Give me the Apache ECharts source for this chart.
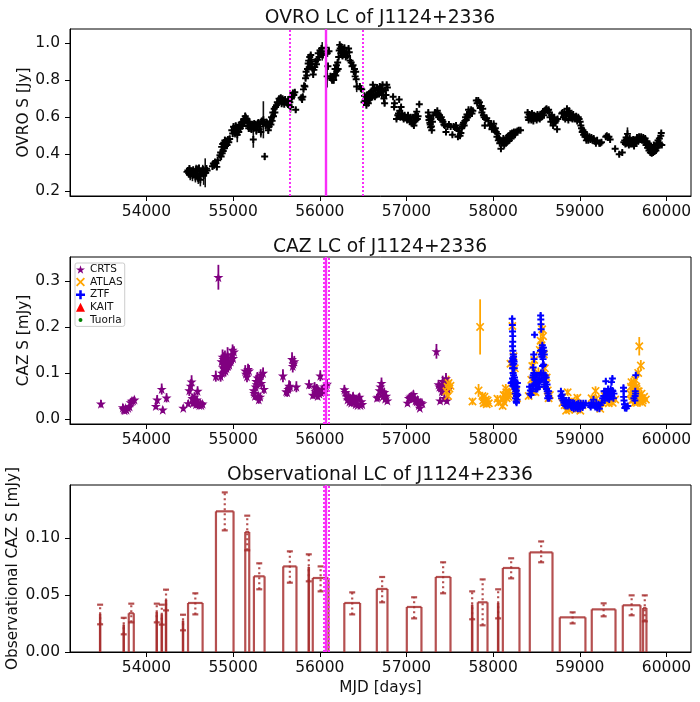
<!DOCTYPE html>
<html>
<head>
<meta charset="utf-8">
<title>J1124+2336</title>
<script src="https://cdn.jsdelivr.net/npm/echarts@6/dist/echarts.min.js"></script>
<style>html,body{margin:0;padding:0;background:#fff}#main{width:700px;height:702px}</style>
</head>
<body>
<div id="main"></div>
<script>
// [mjd, flux, err]
var ovro = [
[54468,.305,.02],[54478,.312,.02],[54487,.298,.025],[54496,.322,.02],[54505,.29,.03],[54514,.31,.02],[54522,.302,.025],[54531,.285,.03],[54540,.315,.02],[54548,.296,.025],[54556,.305,.02],[54565,.278,.03],[54573,.318,.025],[54582,.292,.03],[54590,.31,.03],[54598,.27,.03],[54606,.325,.02],[54614,.288,.03],[54622,.262,.035],[54630,.305,.02],[54640,.296,.02],[54650,.318,.025],[54660,.285,.05],[54668,.308,.02],[54678,.3,.078],[54684,.3,.02],[54692,.322,.02],[54700,.312,.02],
[54762,.335,.02],[54772,.35,.015],[54782,.342,.02],[54792,.358,.015],[54802,.352,.015],[54812,.332,.015],[54822,.368,.015],[54848,.395,.015],[54856,.41,.015],[54862,.388,.015],[54868,.44,.02],[54874,.405,.015],[54880,.455,.02],[54886,.418,.015],[54892,.462,.02],[54898,.432,.02],[54905,.475,.02],[54912,.445,.015],[54920,.47,.02],[54930,.45,.02],[54940,.478,.02],[54950,.465,.02],[54960,.482,.02],
[54985,.53,.015],[54995,.512,.02],[55005,.548,.02],[55014,.525,.02],[55022,.515,.025],[55030,.552,.02],[55040,.538,.02],[55048,.505,.04],[55056,.545,.02],[55065,.52,.02],[55074,.558,.02],[55084,.54,.02],[55094,.57,.02],[55104,.552,.02],[55114,.575,.02],[55124,.59,.02],[55132,.57,.02],[55140,.605,.02],[55148,.595,.02],[55156,.585,.02],[55164,.57,.02],[55172,.552,.02],[55180,.54,.02],[55188,.575,.02],[55196,.55,.03],[55204,.56,.02],[55212,.535,.02],[55233,.48,.045],[55228,.555,.025],[55236,.54,.02],[55244,.565,.02],[55252,.548,.02],[55260,.56,.02],[55268,.53,.025],[55276,.55,.02],[55284,.565,.02],[55292,.57,.02],[55300,.535,.02],[55310,.55,.02],[55320,.52,.03],[55330,.578,.02],[55349,.586,.1],[55346,.575,.02],[55356,.57,.02],[55364,.388,.02],
[55376,.555,.02],[55386,.572,.02],[55396,.56,.025],[55406,.53,.02],[55416,.55,.02],[55426,.575,.02],[55436,.56,.02],[55444,.6,.02],[55450,.58,.02],[55458,.625,.02],[55466,.605,.02],[55474,.645,.02],[55482,.625,.02],[55490,.655,.02],[55500,.665,.015],[55510,.68,.015],[55520,.675,.015],[55530,.7,.012],[55540,.69,.012],[55550,.705,.012],[55560,.672,.012],[55570,.7,.012],[55580,.685,.012],[55590,.67,.012],[55600,.695,.012],[55612,.68,.012],[55624,.675,.012],[55636,.695,.012],[55646,.665,.015],[55654,.68,.02],[55662,.655,.03],[55672,.7,.02],[55680,.71,.012],[55690,.73,.012],[55700,.72,.012],[55712,.735,.012],[55722,.64,.015],
[55786,.705,.012],[55796,.695,.015],[55804,.71,.012],[55812,.75,.012],[55820,.77,.012],[55828,.765,.012],[55836,.81,.012],[55842,.845,.012],[55850,.825,.012],[55858,.86,.015],[55866,.89,.012],[55872,.905,.012],[55878,.87,.012],[55884,.925,.012],[55890,.89,.012],[55896,.935,.012],[55902,.91,.012],[55908,.885,.012],[55916,.86,.015],[55924,.83,.012],[55932,.855,.012],[55942,.87,.015],[55952,.9,.012],[55962,.885,.012],[55972,.91,.012],[55982,.945,.012],[55992,.925,.015],[56002,.96,.015],[56012,.94,.015],[56020,.97,.02],[56028,.955,.05],[56036,.935,.015],
[56074,.975,.02],[56085,.82,.06],[56086,.945,.02],[56094,.875,.02],[56106,.955,.012],[56124,.82,.02],[56132,.81,.015],[56142,.8,.02],[56150,.82,.015],[56160,.8,.02],[56168,.83,.015],[56176,.86,.02],[56184,.825,.02],[56192,.88,.015],[56198,.85,.02],[56206,.895,.015],[56212,.86,.02],[56218,.925,.012],[56224,.96,.015],[56230,.99,.012],[56236,.97,.012],[56242,.945,.012],[56248,.98,.012],[56254,.955,.012],[56262,.93,.015],[56268,.96,.012],[56276,.94,.012],[56284,.975,.012],[56292,.945,.012],[56300,.925,.012],[56310,.95,.012],[56320,.93,.012],[56332,.97,.012],[56340,.95,.012],[56350,.905,.012],[56362,.895,.012],[56372,.875,.012],[56384,.88,.012],[56392,.845,.012],[56400,.86,.012],[56408,.82,.02],[56414,.845,.012],[56420,.805,.012],[56426,.765,.03],[56462,.765,.012],[56474,.755,.012],[56484,.75,.012],
[56510,.68,.012],[56516,.715,.012],[56522,.69,.012],[56530,.7,.012],[56538,.665,.012],[56544,.72,.012],[56552,.7,.012],[56560,.675,.012],[56568,.725,.012],[56576,.695,.012],[56584,.735,.012],[56590,.705,.012],[56598,.74,.012],[56604,.71,.012],[56612,.775,.012],[56620,.72,.015],[56628,.755,.012],[56636,.71,.012],[56644,.745,.012],[56652,.72,.012],[56660,.76,.012],[56668,.73,.012],[56676,.75,.012],[56684,.725,.012],[56692,.765,.012],[56700,.74,.012],[56708,.755,.015],[56716,.72,.012],[56724,.775,.012],[56732,.74,.012],[56740,.7,.012],[56748,.675,.015],[56756,.745,.012],[56764,.72,.012],[56772,.775,.012],[56780,.76,.012],
[56846,.71,.01],[56858,.655,.012],[56862,.675,.01],[56885,.59,.01],[56900,.61,.01],[56908,.62,.01],[56916,.695,.01],[56922,.635,.01],[56930,.6,.01],[56938,.655,.01],[56948,.62,.01],[56958,.6,.01],[56968,.59,.01],[56978,.61,.01],[56988,.595,.01],[56998,.6,.012],[57008,.585,.01],[57018,.61,.01],[57028,.59,.01],[57038,.575,.01],[57048,.6,.01],[57058,.58,.012],[57068,.565,.012],[57078,.6,.01],[57086,.555,.012],[57094,.58,.01],[57102,.61,.012],[57110,.585,.01],[57118,.63,.012],[57126,.59,.01],[57134,.605,.01],[57148,.67,.01],
[57252,.625,.012],[57256,.605,.012],[57260,.585,.012],[57264,.6,.012],[57270,.57,.012],[57274,.56,.012],[57278,.545,.012],[57282,.59,.012],[57288,.55,.012],[57292,.53,.012],[57300,.575,.012],[57310,.61,.01],[57330,.625,.01],[57346,.615,.01],[57356,.635,.01],[57366,.62,.01],[57374,.6,.01],[57382,.61,.01],[57392,.59,.01],[57402,.6,.01],[57412,.585,.01],[57422,.575,.01],[57432,.56,.01],[57442,.555,.01],[57456,.52,.01],[57474,.55,.01],[57490,.56,.01],[57510,.55,.01],[57530,.505,.01],[57545,.55,.01],[57560,.545,.01],[57572,.555,.01],[57584,.54,.01],[57594,.495,.01],[57606,.525,.01],[57618,.5,.012],[57628,.515,.01],[57636,.54,.01],[57644,.55,.01],[57650,.56,.01],[57658,.57,.01],[57666,.555,.01],[57674,.58,.01],[57682,.6,.01],[57690,.585,.01],[57698,.615,.01],[57706,.6,.01],[57716,.64,.01],[57726,.61,.01],[57736,.625,.01],[57746,.64,.01],[57756,.62,.01],[57766,.635,.01],
[57806,.69,.01],[57816,.675,.01],[57828,.69,.01],[57842,.68,.01],[57852,.65,.01],[57862,.66,.01],[57870,.625,.01],[57880,.645,.01],[57888,.61,.01],[57896,.6,.01],[57904,.555,.01],[57912,.59,.01],[57926,.595,.01],[57946,.58,.01],[57962,.555,.01],[57976,.56,.01],[57986,.535,.01],[57996,.55,.01],[58006,.565,.01],[58016,.53,.01],[58026,.54,.01],[58036,.52,.01],[58044,.495,.01],[58052,.51,.01],[58060,.475,.01],[58068,.485,.01],[58076,.46,.01],[58084,.475,.01],[58090,.43,.012],[58098,.47,.01],[58108,.46,.01],[58118,.485,.01],[58128,.45,.01],[58138,.475,.01],[58148,.46,.01],[58158,.49,.01],[58168,.47,.01],[58178,.5,.01],[58188,.475,.01],[58198,.51,.01],[58208,.485,.01],[58218,.515,.01],[58228,.5,.01],[58240,.52,.01],[58252,.505,.01],[58264,.52,.01],[58280,.525,.01],[58296,.53,.01],[58316,.53,.01],
[58398,.625,.012],[58404,.6,.012],[58410,.585,.012],[58416,.615,.012],[58424,.595,.012],[58432,.61,.012],[58440,.585,.012],[58448,.62,.012],[58456,.6,.012],[58464,.58,.012],[58472,.61,.012],[58482,.595,.012],[58492,.605,.012],[58502,.585,.012],[58512,.615,.012],[58522,.595,.012],[58530,.605,.012],[58538,.59,.012],[58546,.615,.012],[58556,.6,.012],[58566,.62,.012],[58576,.63,.012],[58586,.61,.012],[58596,.635,.012],[58606,.64,.012],[58616,.645,.012],[58628,.635,.012],[58640,.64,.012],[58648,.625,.012],[58656,.6,.012],[58666,.575,.012],[58676,.61,.012],[58686,.59,.012],[58692,.555,.012],[58704,.6,.012],[58714,.57,.012],[58726,.58,.012],[58738,.535,.01],[58744,.59,.01],
[58792,.62,.01],[58802,.625,.01],[58812,.6,.01],[58822,.625,.01],[58832,.59,.01],[58842,.615,.01],[58852,.645,.01],[58860,.625,.01],[58868,.585,.01],[58876,.635,.01],[58884,.605,.01],[58892,.62,.01],[58900,.595,.01],[58908,.61,.01],[58916,.59,.01],[58924,.615,.01],[58934,.6,.01],[58946,.59,.01],[58958,.605,.01],[58970,.58,.01],[58982,.6,.01],[58992,.59,.01],[59004,.575,.01],[59012,.555,.01],[59020,.54,.01],[59028,.52,.01],[59036,.53,.01],[59044,.505,.01],[59052,.52,.01],[59060,.495,.01],[59068,.5,.01],[59076,.475,.01],[59086,.5,.01],[59098,.475,.01],[59110,.495,.01],[59122,.48,.01],[59134,.49,.01],[59146,.475,.01],[59160,.485,.01],[59174,.47,.01],[59186,.46,.01],[59200,.475,.01],[59224,.46,.01],[59236,.46,.01],[59250,.465,.01],[59300,.495,.01],[59312,.5,.01],[59324,.49,.01],[59336,.495,.01],[59350,.48,.01],[59408,.43,.012],[59455,.4,.012],[59490,.41,.012],
[59508,.465,.012],[59518,.475,.012],[59526,.455,.012],[59534,.49,.012],[59542,.46,.012],[59550,.51,.035],[59558,.47,.012],[59566,.45,.012],[59576,.485,.012],[59586,.455,.012],[59596,.475,.012],[59606,.455,.012],[59616,.48,.012],[59626,.445,.012],[59636,.475,.012],[59648,.46,.012],[59660,.49,.012],[59672,.47,.012],[59684,.495,.012],[59696,.48,.012],[59708,.495,.012],[59720,.475,.012],[59732,.49,.012],[59744,.465,.012],[59754,.485,.012],[59764,.45,.012],[59774,.47,.012],[59782,.435,.012],[59790,.455,.012],[59798,.42,.015],[59806,.45,.012],[59814,.41,.015],[59822,.445,.012],[59830,.405,.015],[59838,.43,.012],[59846,.41,.012],[59854,.45,.012],[59862,.415,.012],[59870,.43,.012],[59878,.42,.012],[59886,.46,.012],[59894,.435,.012],[59902,.475,.012],[59910,.45,.012],[59918,.485,.012],[59926,.455,.012],[59934,.5,.012],[59940,.515,.012],[59946,.45,.012]
];

var crts = [
[53475,.033,.008],[53728,.025,.008],[53738,.021,.006],[53748,.019,.006],[53760,.024,.006],[53770,.02,.005],[53790,.024,.006],[53806,.027,.006],[53818,.036,.008],[53830,.039,.007],[53846,.04,.007],[53862,.042,.006],
[54108,.028,.007],[54124,.042,.01],[54176,.065,.012],[54188,.02,.007],[54232,.046,.01],[54425,.024,.007],[54482,.034,.007],[54494,.062,.012],[54510,.072,.014],[54521,.081,.014],[54530,.045,.01],[54538,.035,.008],[54546,.042,.01],[54554,.048,.01],[54562,.038,.009],[54572,.032,.008],[54582,.042,.008],[54590,.061,.01],[54600,.033,.007],[54610,.03,.007],[54624,.034,.007],[54634,.03,.006],[54648,.033,.006],
[54800,.093,.012],[54830,.308,.027],[54856,.093,.012],[54866,.125,.015],[54872,.1,.012],[54878,.135,.016],[54884,.112,.014],[54888,.13,.015],[54894,.118,.014],[54900,.108,.012],[54906,.135,.014],[54912,.105,.013],[54918,.125,.014],[54924,.11,.012],[54930,.125,.015],[54936,.14,.016],[54942,.115,.013],[54948,.122,.014],[54956,.118,.012],[54972,.125,.012],[54986,.14,.013],[54994,.15,.012],[55000,.132,.012],[55010,.146,.012],
[55140,.105,.012],[55148,.098,.012],[55160,.092,.012],[55172,.108,.012],[55184,.105,.012],[55238,.062,.01],[55244,.056,.01],[55252,.05,.009],[55260,.07,.012],[55266,.082,.014],[55272,.075,.012],[55280,.09,.012],[55288,.05,.009],[55296,.042,.009],[55304,.085,.012],[55312,.048,.009],[55318,.096,.012],[55326,.078,.012],[55346,.1,.012],[55356,.065,.01],
[55575,.094,.014],[55612,.06,.01],[55624,.058,.01],[55636,.065,.01],[55646,.072,.012],[55658,.07,.012],[55680,.13,.015],[55688,.115,.014],[55696,.12,.013],[55706,.125,.012],[55730,.07,.012],[55876,.075,.01],[55920,.052,.008],[55940,.07,.01],[55950,.06,.009],[55958,.055,.009],[55966,.066,.01],[55976,.05,.008],[55986,.062,.008],[55996,.055,.008],[56006,.094,.012],[56014,.058,.008],[56024,.062,.008],[56040,.064,.009],[56052,.07,.009],[56062,.06,.009],[56072,.072,.01],[56084,.076,.01],
[56284,.064,.01],[56296,.058,.01],[56308,.05,.009],[56320,.042,.008],[56332,.05,.008],[56342,.038,.008],[56352,.045,.008],[56362,.035,.007],[56372,.04,.008],[56384,.05,.008],[56394,.036,.007],[56404,.044,.007],[56414,.032,.006],[56424,.042,.007],[56436,.03,.006],[56446,.046,.007],[56458,.048,.008],[56470,.03,.006],[56480,.038,.007],[56490,.032,.006],
[56660,.046,.008],[56672,.048,.008],[56690,.062,.01],[56700,.07,.01],[56712,.078,.012],[56722,.06,.01],[56732,.05,.008],[56744,.058,.009],[56754,.044,.008],[56766,.05,.008],[56780,.04,.007],
[57012,.035,.007],[57028,.045,.008],[57042,.048,.008],[57056,.05,.008],[57068,.044,.008],[57080,.054,.008],[57092,.046,.007],[57104,.04,.007],[57118,.038,.007],[57130,.042,.007],[57142,.03,.006],[57154,.024,.006],[57166,.036,.007],[57184,.034,.006],
[57346,.147,.016],[57370,.075,.01],[57380,.07,.01],[57388,.04,.007],[57398,.068,.01],[57408,.06,.01],[57418,.082,.012],[57428,.072,.01],[57438,.045,.008],[57448,.078,.012],[57456,.088,.012],[57466,.04,.007],[57476,.064,.01]
];

var atlas = [
[57462,.06,.012],[57474,.07,.015],[57480,.05,.012],[57486,.078,.016],[57496,.066,.012],[57508,.072,.012],
[57762,.038,.008],[57832,.062,.014],[57850,.2,.06],[57876,.05,.009],[57886,.04,.008],[57892,.034,.007],[57900,.048,.008],[57908,.036,.007],[57916,.042,.007],[57926,.032,.007],[57936,.04,.007],[57950,.034,.007],
[58050,.044,.008],[58060,.035,.007],[58110,.028,.007],[58116,.042,.008],[58122,.052,.008],[58126,.036,.007],[58136,.05,.008],[58146,.066,.01],[58152,.058,.008],[58156,.045,.008],[58166,.056,.009],[58176,.048,.008],[58184,.06,.008],[58190,.052,.008],[58200,.12,.012],[58222,.202,.014],[58236,.136,.012],[58250,.11,.01],[58262,.06,.008],[58276,.045,.008],
[58410,.05,.008],[58440,.085,.01],[58452,.115,.012],[58462,.06,.008],[58474,.128,.012],[58488,.058,.008],[58504,.09,.01],[58522,.1,.012],[58538,.15,.012],[58548,.17,.014],[58558,.16,.014],[58566,.195,.014],[58576,.18,.012],[58586,.14,.012],[58596,.11,.012],[58606,.075,.01],[58618,.09,.01],[58630,.062,.008],[58640,.045,.008],[58654,.052,.008],
[58800,.035,.007],[58826,.03,.007],[58842,.018,.006],[58860,.058,.008],[58876,.02,.006],[58890,.03,.006],[58908,.04,.006],[58930,.025,.006],[58950,.02,.006],[58972,.046,.008],[58990,.032,.006],[59006,.018,.006],[59030,.03,.006],
[59136,.045,.008],[59160,.04,.008],[59182,.061,.01],[59190,.044,.008],[59210,.03,.006],[59236,.022,.006],[59262,.035,.006],[59288,.05,.008],[59312,.04,.007],[59334,.034,.007],[59356,.05,.008],[59380,.035,.006],[59408,.042,.007],
[59584,.055,.008],[59590,.07,.008],[59596,.08,.01],[59600,.04,.006],[59606,.05,.008],[59610,.06,.008],[59614,.072,.01],[59618,.05,.006],[59622,.042,.007],[59626,.08,.008],[59630,.06,.008],[59634,.035,.006],[59640,.085,.01],[59648,.04,.007],[59652,.07,.008],[59656,.065,.008],[59660,.035,.006],[59664,.05,.008],[59668,.06,.008],[59674,.1,.01],[59686,.158,.02],[59704,.116,.012],[59680,.06,.008],[59690,.05,.006],[59696,.04,.006],[59712,.055,.008],[59720,.035,.006],[59726,.04,.006],[59742,.048,.006],[59762,.042,.006]
];

var ztf = [
[58220,.218,.006],[58222,.204,.006],[58224,.19,.006],[58226,.18,.006],[58226,.168,.006],[58224,.158,.006],[58228,.148,.006],[58232,.14,.006],[58226,.132,.006],[58222,.125,.006],[58228,.118,.006],[58234,.128,.006],[58238,.12,.006],[58224,.11,.006],[58230,.1,.006],[58236,.095,.006],[58224,.088,.006],[58232,.08,.005],[58240,.085,.005],[58218,.08,.005],[58208,.078,.005],[58226,.072,.005],[58240,.07,.005],[58254,.08,.005],[58262,.078,.005],[58272,.07,.005],[58280,.078,.005],[58254,.065,.005],[58262,.06,.005],[58270,.05,.005],[58260,.045,.005],[58266,.038,.005],[58276,.042,.005],[58284,.052,.005],[58244,.11,.006],[58236,.135,.006],[58242,.125,.006],[58246,.09,.005],[58216,.125,.006],[58258,.07,.005],[58268,.062,.005],[58256,.055,.005],[58274,.055,.005],[58270,.035,.005],
[58420,.07,.005],[58424,.055,.005],[58430,.062,.005],[58438,.052,.005],[58446,.06,.005],[58454,.072,.005],[58458,.09,.006],[58462,.112,.006],[58468,.14,.006],[58472,.13,.006],[58470,.1,.006],[58478,.183,.006],[58480,.085,.005],[58488,.075,.005],[58498,.08,.005],[58510,.065,.005],[58522,.085,.005],[58532,.07,.005],[58540,.082,.005],[58548,.225,.006],[58550,.216,.006],[58552,.206,.006],[58546,.148,.006],[58554,.195,.006],[58560,.15,.006],[58568,.16,.006],[58574,.145,.006],[58580,.155,.006],[58586,.148,.006],[58552,.1,.005],[58560,.085,.005],[58570,.115,.005],[58578,.1,.005],[58584,.09,.005],[58592,.075,.005],[58600,.095,.005],[58608,.08,.005],[58616,.065,.005],[58624,.06,.005],[58632,.055,.005],[58640,.05,.005],[58648,.045,.004],[58462,.095,.005],[58468,.075,.005],[58476,.1,.005],[58484,.09,.005],[58494,.065,.005],[58504,.095,.005],[58514,.08,.005],[58526,.07,.005],[58536,.095,.005],[58556,.14,.006],[58564,.135,.006],[58572,.155,.006],[58576,.13,.006],[58590,.14,.006],[58582,.118,.006],[58594,.09,.005],[58604,.07,.005],[58612,.09,.005],[58622,.075,.005],[58630,.045,.005],[58640,.06,.005],
[58782,.06,.005],[58784,.05,.005],[58790,.045,.005],[58796,.053,.004],[58806,.04,.004],[58816,.035,.004],[58824,.03,.004],[58830,.04,.004],[58840,.028,.004],[58852,.034,.004],[58862,.028,.004],[58874,.04,.004],[58884,.032,.004],[58896,.028,.004],[58908,.025,.004],[58920,.035,.004],[58930,.022,.004],[58942,.03,.004],[58954,.024,.004],[58966,.032,.004],[58978,.022,.004],[58990,.028,.004],[59004,.022,.004],[59018,.03,.004],[59032,.025,.004],[59048,.03,.004],[59068,.034,.004],[58846,.04,.004],[58868,.032,.004],[58890,.036,.004],[58914,.03,.004],[58936,.034,.004],[58960,.028,.004],[58984,.034,.004],[59010,.034,.004],[59040,.034,.004],
[59114,.03,.004],[59126,.026,.004],[59136,.035,.004],[59146,.03,.004],[59158,.042,.004],[59168,.03,.004],[59178,.026,.004],[59190,.034,.004],[59200,.024,.004],[59214,.032,.004],[59226,.022,.004],[59238,.03,.004],[59252,.035,.004],[59264,.045,.004],[59276,.05,.004],[59288,.04,.004],[59296,.06,.004],[59302,.05,.004],[59300,.082,.005],[59314,.055,.004],[59326,.065,.004],[59336,.058,.004],[59346,.05,.004],[59356,.065,.004],[59366,.08,.005],[59376,.088,.005],[59382,.06,.004],[59388,.045,.004],[59394,.055,.004],[59280,.06,.004],[59322,.045,.004],[59340,.042,.004],[59352,.055,.004],[59368,.05,.004],[59376,.062,.004],
[59504,.068,.005],[59506,.06,.005],[59506,.048,.005],[59510,.04,.005],[59516,.032,.005],[59520,.024,.005],[59528,.027,.005],[59538,.023,.005],[59552,.028,.005],[59624,.045,.005],[59636,.04,.005],[59638,.05,.005],[59640,.06,.005],[59644,.055,.005],[59646,.095,.006]
];

// [start, end, flux, low, high]
var blocks = [
[53464,53467,.0333,.0243,.0415],[53736,53740,.024,.0155,.03],[53796,53854,.034,.026,.0424],[54117,54121,.035,.026,.0424],[54175,54179,.033,.024,.0415],[54224,54228,.0456,.0365,.0547],[54420,54424,.0275,.019,.0327],[54480,54648,.043,.033,.0515],[54802,55005,.1234,.1067,.14],[55140,55186,.1053,.0892,.1196],[55240,55363,.0664,.055,.0778],[55578,55731,.0751,.0608,.0883],[55871,55875,.0746,.062,.0857],[55919,56100,.0649,.0532,.0751],[56283,56465,.043,.033,.0523],[56658,56781,.0553,.0436,.0658],[57004,57173,.0395,.0295,.048],[57338,57508,.0658,.0515,.0787],[57756,57760,.0415,.0287,.0532],[57823,57935,.0436,.0234,.0637],[58056,58060,.043,.0295,.055],[58112,58304,.0737,.0646,.0822],[58423,58685,.0874,.0787,.097],[58769,59065,.0304,.0251,.0348],[59138,59412,.0374,.0313,.0427],[59496,59700,.041,.0322,.0497],[59730,59769,.0386,.0269,.0497]
];

var peak = 56065;
var ovroWindow = [55655, 56500];
var cazWindow = [56046, 56100];
var xTicks = [54000, 55000, 56000, 57000, 58000, 59000, 60000];
var ovroTicks = [0.2, 0.4, 0.6, 0.8, 1.0];
var cazTicks = [0, 0.1, 0.2, 0.3];
var blockTicks = [0, 0.05, 0.1];

var FONT = 'DejaVu Sans';
var STAR = 'path://M50 0L61 35L98 35L68 57L79 91L50 70L21 91L32 57L2 35L39 35Z';
var CROSS = 'path://M14 0L50 36L86 0L100 14L64 50L100 86L86 100L50 64L14 100L0 86L36 50L0 14Z';
var PLUS = 'path://M36 0H64V36H100V64H64V100H36V64H0V36H36Z';
// invisible corners keep the dot small inside the legend's icon box
var DOT = 'path://M0 0L0 0ZM100 100L100 100ZM28 50A22 22 0 1 1 72 50A22 22 0 1 1 28 50Z';
var BROWN = 'rgba(165,42,42,0.82)';
var MAGENTA = '#f92ef9';

function xAxis(idx, name) {
    return {
        gridIndex: idx, type: 'value', min: 53118, max: 60283,
        splitLine: {show: false},
        axisLine: {onZero: false, lineStyle: {color: '#000'}},
        axisTick: {length: 5, lineStyle: {color: '#000'}, customValues: xTicks},
        axisLabel: {color: '#111', fontFamily: FONT, fontSize: 15.5, margin: 8, customValues: xTicks, formatter: function (v) { return '' + v; }},
        name: name, nameLocation: 'middle', nameGap: 29,
        nameTextStyle: {color: '#111', fontFamily: FONT, fontSize: 15.3}
    };
}

function yAxis(idx, name, min, max, ticks, digits, gap) {
    return {
        gridIndex: idx, type: 'value', min: min, max: max,
        splitLine: {show: false},
        axisLine: {onZero: false, lineStyle: {color: '#000'}},
        axisTick: {length: 5, lineStyle: {color: '#000'}, customValues: ticks},
        axisLabel: {color: '#111', fontFamily: FONT, fontSize: 15.5, margin: 10, padding: [3, 0, 0, 0], customValues: ticks, formatter: function (v) { return v.toFixed(digits); }},
        name: name, nameLocation: 'middle', nameGap: gap, nameMoveOverlap: false,
        nameTextStyle: {color: '#111', fontFamily: FONT, fontSize: 15.3}
    };
}

function errorSeries(rows, idx, color, width) {
    return {
        type: 'custom', xAxisIndex: idx, yAxisIndex: idx, data: rows, z: 2, silent: true,
        encode: {x: 0, y: 1},
        renderItem: function (params, api) {
            var a = api.coord([api.value(0), api.value(1) - api.value(2)]);
            var b = api.coord([api.value(0), api.value(1) + api.value(2)]);
            return {type: 'line', shape: {x1: a[0], y1: a[1], x2: b[0], y2: b[1]}, style: {stroke: color, lineWidth: width}};
        }
    };
}

function markerSeries(name, rows, idx, symbol, size, color) {
    return {
        name: name, type: 'scatter', xAxisIndex: idx, yAxisIndex: idx, data: rows,
        symbol: symbol, symbolSize: size, itemStyle: {color: color, opacity: 1}, z: 3, silent: true,
        encode: {x: 0, y: 1}
    };
}

function blockSeries(rows) {
    return {
        type: 'custom', xAxisIndex: 2, yAxisIndex: 2, data: rows, z: 3, silent: true,
        encode: {x: [0, 1], y: [2, 4]},
        renderItem: function (params, api) {
            var x0 = api.value(0), x1 = api.value(1), top = api.value(2), lo = api.value(3), hi = api.value(4);
            var mid = (x0 + x1) / 2;
            var base = {stroke: BROWN, lineWidth: 2.2};
            var dash = {stroke: BROWN, lineWidth: 2.2, lineDash: [2, 3]};
            var pBase0 = api.coord([x0, 0]), pTop0 = api.coord([x0, top]);
            var pBase1 = api.coord([x1, 0]), pTop1 = api.coord([x1, top]);
            var pLo = api.coord([mid, lo]), pHi = api.coord([mid, hi]);
            function seg(x1p, y1p, x2p, y2p, st) {
                return {type: 'line', shape: {x1: x1p, y1: y1p, x2: x2p, y2: y2p}, style: st};
            }
            return {type: 'group', children: [
                seg(pBase0[0], pBase0[1], pTop0[0], pTop0[1], base),
                seg(pTop0[0], pTop0[1], pTop1[0], pTop1[1], base),
                seg(pTop1[0], pTop1[1], pBase1[0], pBase1[1], base),
                seg(pLo[0], pLo[1], pHi[0], pHi[1], dash),
                seg(pLo[0] - 3, pLo[1], pLo[0] + 3, pLo[1], base),
                seg(pHi[0] - 3, pHi[1], pHi[0] + 3, pHi[1], base)
            ]};
        }
    };
}

function flareLines(idx, solid, dotted) {
    var items = [{xAxis: solid, lineStyle: {type: 'solid', width: 2.4, color: MAGENTA}}];
    dotted.forEach(function (v) {
        items.push({xAxis: v, lineStyle: {type: [2, 2], width: 2, color: MAGENTA}});
    });
    return {
        type: 'scatter', xAxisIndex: idx, yAxisIndex: idx, data: [], z: 5, silent: true,
        markLine: {silent: true, symbol: 'none', animation: false, label: {show: false}, data: items}
    };
}

var chart = echarts.init(document.getElementById('main'), null, {renderer: 'canvas'});
var titleStyle = {color: '#111', fontFamily: FONT, fontSize: 18.7, fontWeight: 'normal'};
chart.setOption({
    animation: false,
    backgroundColor: '#fff',
    title: [
        {text: 'OVRO LC of J1124+2336', left: 375, top: 4, textAlign: 'center', textStyle: titleStyle},
        {text: 'CAZ LC of J1124+2336', left: 375, top: 233, textAlign: 'center', textStyle: titleStyle},
        {text: 'Observational LC of J1124+2336', left: 375, top: 461, textAlign: 'center', textStyle: titleStyle}
    ],
    grid: [
        {left: 70, width: 621, top: 29, height: 167, show: true, borderColor: '#000', borderWidth: 1, outerBoundsMode: 'none'},
        {left: 70, width: 621, top: 257, height: 167, show: true, borderColor: '#000', borderWidth: 1, outerBoundsMode: 'none'},
        {left: 70, width: 621, top: 485, height: 167, show: true, borderColor: '#000', borderWidth: 1, outerBoundsMode: 'none'}
    ],
    xAxis: [xAxis(0, ''), xAxis(1, ''), xAxis(2, 'MJD [days]')],
    yAxis: [
        yAxis(0, 'OVRO S [Jy]', 0.175, 1.0755, ovroTicks, 1, 38),
        yAxis(1, 'CAZ S [mJy]', -0.011, 0.352, cazTicks, 1, 38),
        yAxis(2, 'Observational CAZ S [mJy]', 0, 0.1465, blockTicks, 2, 49)
    ],
    legend: {
        left: 75, top: 263, orient: 'vertical', padding: [1, 2, 1, 1],
        itemWidth: 9, itemHeight: 9, itemGap: 1.6,
        backgroundColor: 'rgba(255,255,255,0.8)', borderColor: '#ccc', borderWidth: 1, borderRadius: 2,
        textStyle: {color: '#111', fontFamily: FONT, fontSize: 10.5, lineHeight: 10},
        data: [
            {name: 'CRTS', icon: STAR}, {name: 'ATLAS', icon: CROSS}, {name: 'ZTF', icon: PLUS},
            {name: 'KAIT', icon: 'triangle'}, {name: 'Tuorla', icon: DOT}
        ]
    },
    series: [
        errorSeries(ovro, 0, '#111', 1.6),
        markerSeries('OVRO', ovro, 0, PLUS, 7, '#000'),
        flareLines(0, peak, ovroWindow),

        errorSeries(crts, 1, 'purple', 1.8),
        markerSeries('CRTS', crts, 1, STAR, 10, 'purple'),
        errorSeries(atlas, 1, 'orange', 1.8),
        markerSeries('ATLAS', atlas, 1, CROSS, 8.5, 'orange'),
        errorSeries(ztf, 1, 'blue', 1.8),
        markerSeries('ZTF', ztf, 1, PLUS, 7, 'blue'),
        markerSeries('KAIT', [], 1, 'triangle', 8, 'red'),
        markerSeries('Tuorla', [], 1, 'circle', 5, 'green'),
        flareLines(1, peak, cazWindow),

        blockSeries(blocks),
        flareLines(2, peak, cazWindow)
    ]
});
</script>
</body>
</html>
